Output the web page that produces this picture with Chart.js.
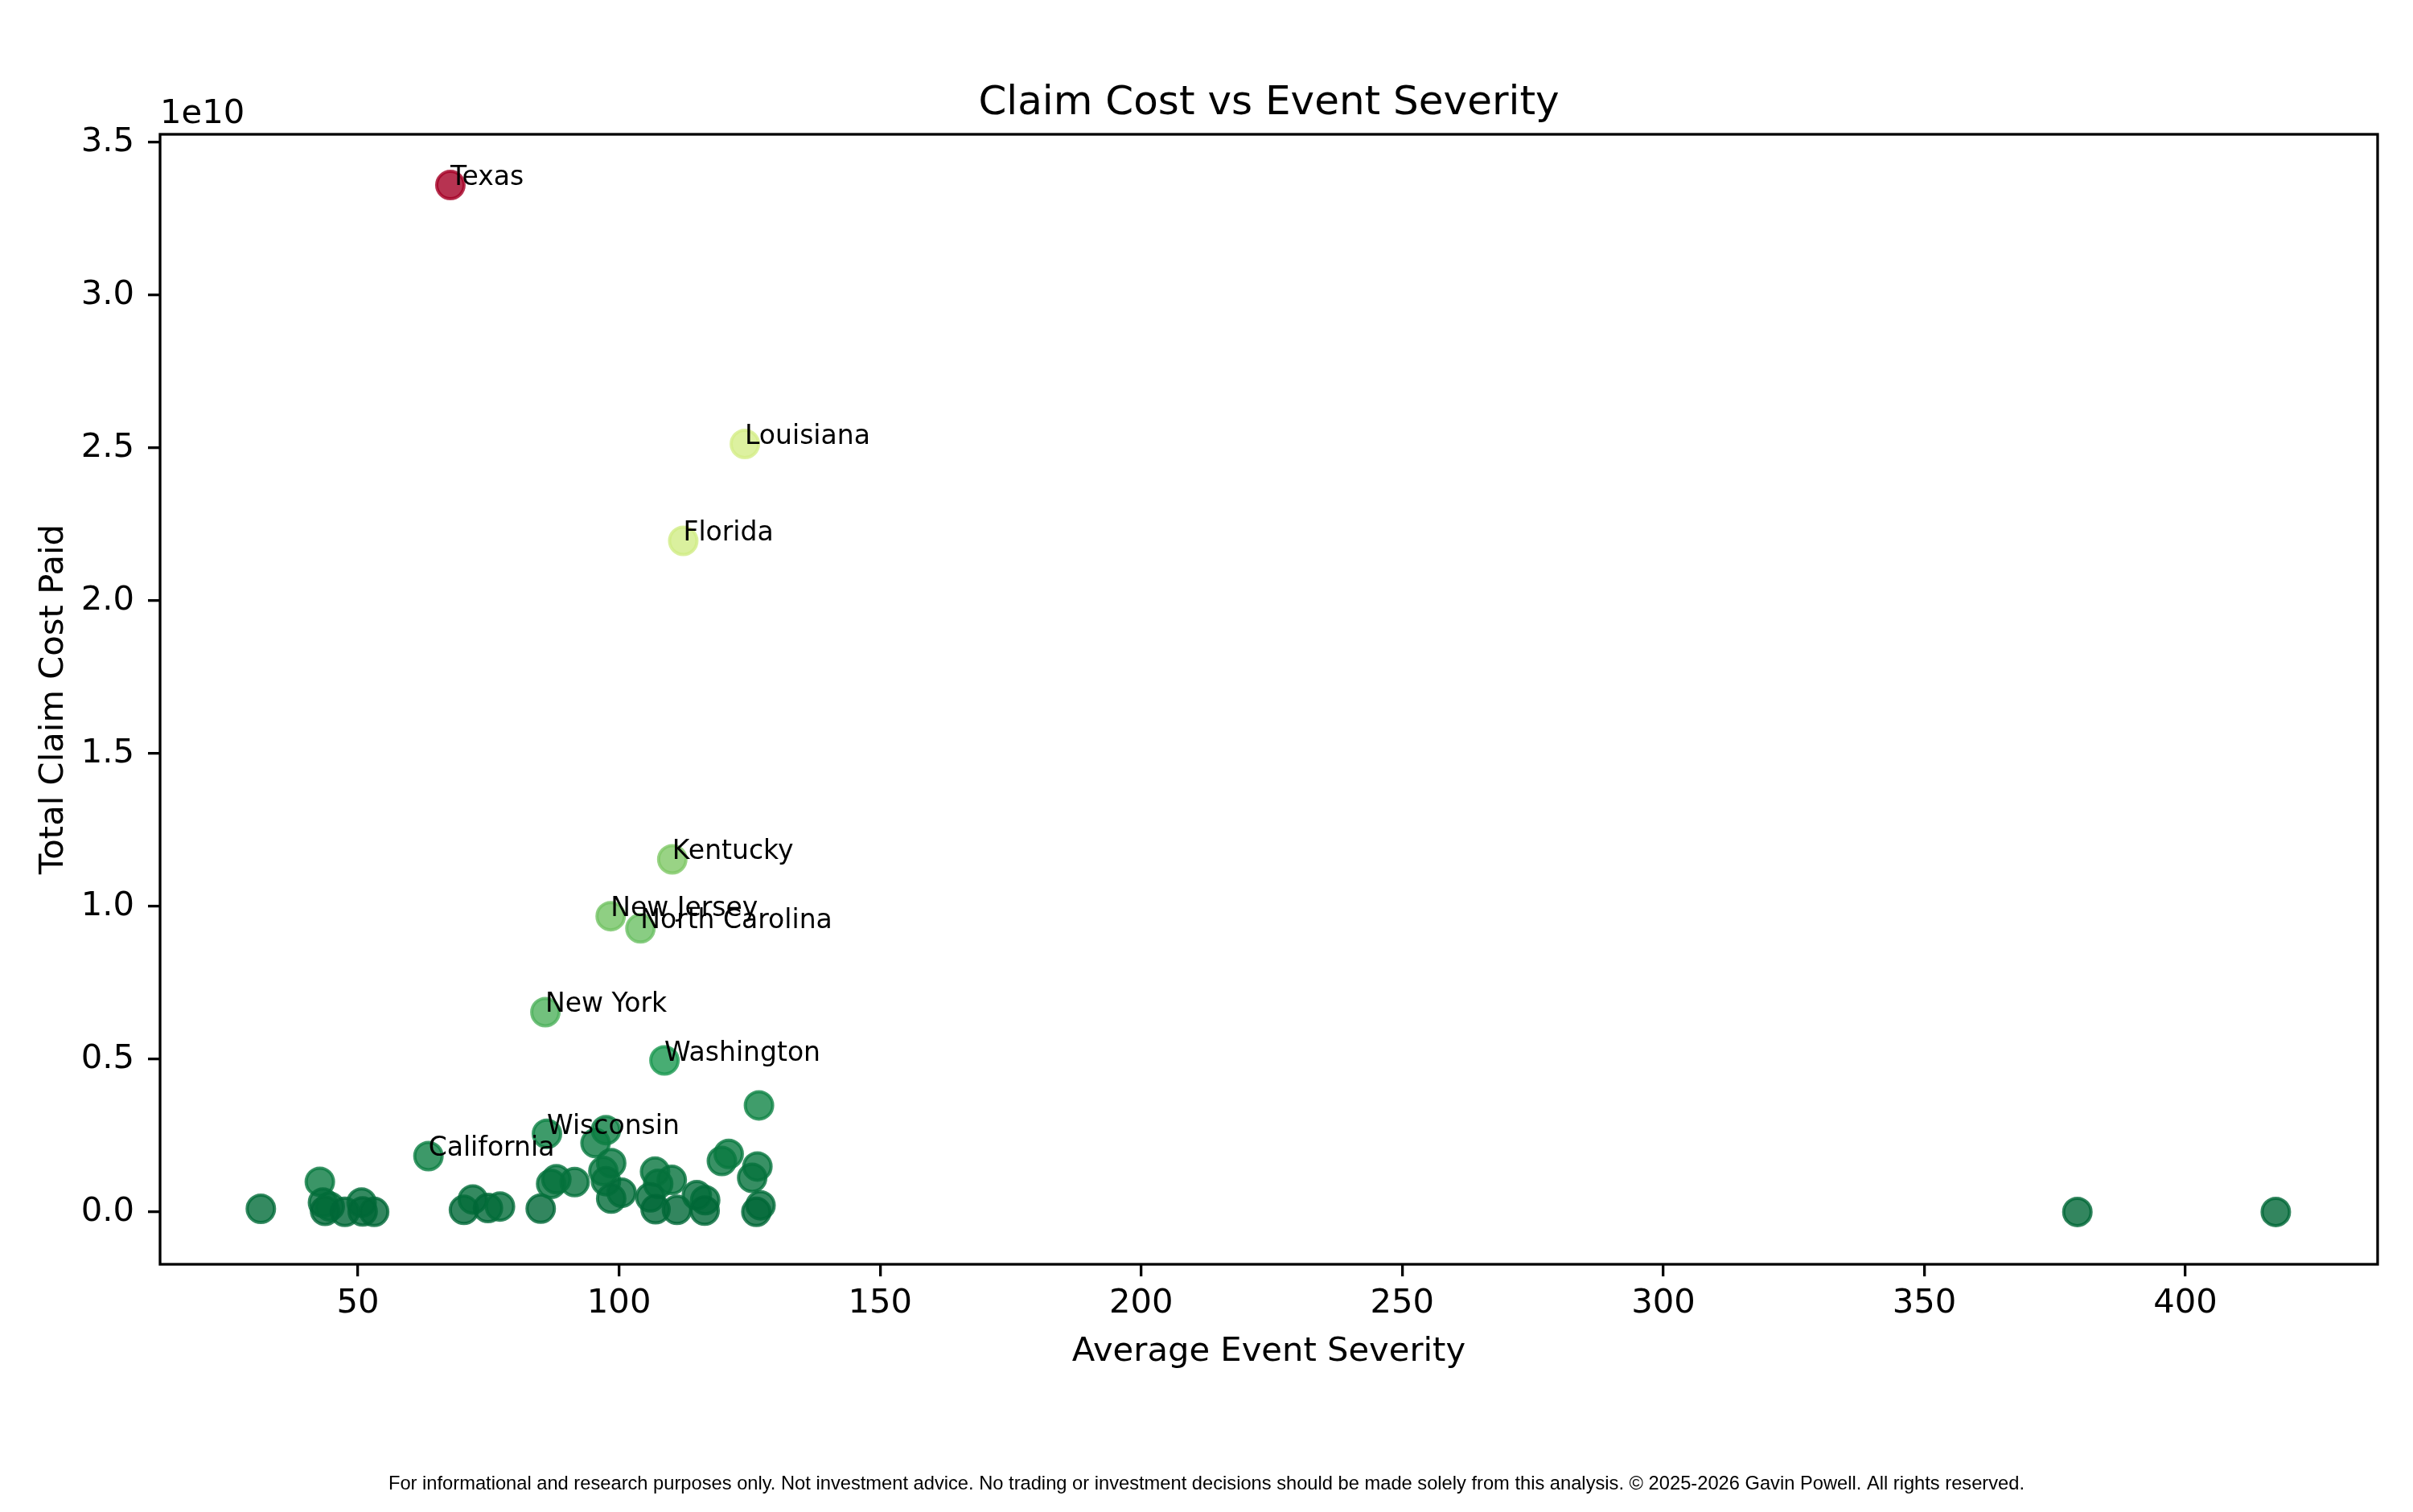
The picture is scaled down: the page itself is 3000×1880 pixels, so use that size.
<!DOCTYPE html>
<html>
<head>
<meta charset="utf-8">
<title>Claim Cost vs Event Severity</title>
<script src="https://cdn.jsdelivr.net/npm/chart.js@4.4.1/dist/chart.umd.min.js"></script>
<style>
  html, body { margin: 0; padding: 0; background: #fff; }
  #wrap { width: 3000px; height: 1880px; }
</style>
</head>
<body>
<div id="wrap"><canvas id="chart" width="3000" height="1880"></canvas></div>
<script>
// values ('' = point without a label)
const stateNames = [
  'Texas', 'Louisiana', 'Florida', 'Kentucky', 'New Jersey', 'North Carolina',
  'New York', 'Washington', 'Wisconsin', 'California',
  '', '', '', '', '', '', '', '', '', '', '', '', '', '', '', '', '', '', '', '', '',
  '', '', '', '', '', '', '', '', '', '', '', '', '', '', '', '', '', '', '', '', ''
];
const avgSeverity = [
  67.7, 124.1, 112.3, 110.2, 98.4, 104.1, 85.9, 108.7, 86.2, 63.5,
  126.8, 31.4, 42.7, 43.3, 43.7, 44.6, 47.5, 50.7, 50.9, 53.1,
  70.3, 72.0, 74.9, 77.2, 85.0, 87.0, 88.0, 91.5, 95.5, 97.5,
  98.5, 97.0, 97.5, 98.5, 100.5, 106.9, 110.1, 107.5, 106.0, 107.0,
  111.1, 114.9, 116.5, 116.4, 119.7, 121.0, 126.5, 125.5, 127.1, 126.3,
  379.3, 417.3
];
const claimCost = [
  3.36e10, 2.513e10, 2.196e10, 1.154e10, 9.68e9, 9.28e9, 6.54e9, 4.96e9, 2.56e9, 1.83e9,
  3.49e9, 1.05e8, 9.9e8, 3.1e8, 4e7, 1.8e8, 5e6, 3.1e8, 2e7, 5e6,
  7e7, 4.1e8, 1.3e8, 1.8e8, 1.1e8, 9.2e8, 1.07e9, 9.8e8, 2.255e9, 2.68e9,
  1.6e9, 1.34e9, 1.01e9, 4.4e8, 6.3e8, 1.32e9, 1.05e9, 9.2e8, 4.8e8, 9e7,
  7e7, 5.5e8, 3.9e8, 4.5e7, 1.67e9, 1.9e9, 1.49e9, 1.12e9, 2.2e8, 5e6,
  3e6, 2e6
];
// position of each point on the reversed red-yellow-green colour scale
const colorLevel = [
  1.0, 0.39, 0.385, 0.24, 0.22, 0.21, 0.17, 0.10, 0.055, 0.05,
  0.06, 0.01, 0.04, 0.01, 0.0, 0.01, 0.0, 0.01, 0.0, 0.0,
  0.0, 0.01, 0.0, 0.01, 0.0, 0.02, 0.02, 0.02, 0.04, 0.045,
  0.03, 0.03, 0.02, 0.01, 0.01, 0.03, 0.02, 0.02, 0.01, 0.0,
  0.0, 0.01, 0.01, 0.0, 0.03, 0.035, 0.03, 0.02, 0.01, 0.0,
  0.0, 0.0
];
const xTicks = [50, 100, 150, 200, 250, 300, 350, 400];
const yTicks = [0, 0.5e10, 1.0e10, 1.5e10, 2.0e10, 2.5e10, 3.0e10, 3.5e10];

const FONT = 'DejaVu Sans';

// RdYlGn colour stops, read in reverse
const rdylgn = [
  [165, 0, 38], [215, 48, 39], [244, 109, 67], [253, 174, 97], [254, 224, 139],
  [255, 255, 191], [217, 239, 139], [166, 217, 106], [102, 189, 99], [26, 152, 80], [0, 104, 55]
];
function rdylgnR(t, alpha) {
  const u = (1 - t) * 10;
  const i = Math.min(9, Math.floor(u));
  const f = u - i;
  const a = rdylgn[i], b = rdylgn[i + 1];
  const c = a.map((v, k) => Math.round(v + (b[k] - v) * f));
  return `rgba(${c[0]}, ${c[1]}, ${c[2]}, ${alpha})`;
}

const pointColors = colorLevel.map(t => rdylgnR(t, 0.8));

// frame, titles, point labels and footer
const textPlugin = {
  id: 'textPlugin',
  afterDatasetsDraw(chart) {
    const { ctx, chartArea: a, scales } = chart;
    ctx.save();
    ctx.strokeStyle = '#000';
    ctx.lineWidth = 3.3;
    ctx.strokeRect(a.left, a.top, a.right - a.left, a.bottom - a.top);

    ctx.fillStyle = '#000';
    ctx.textAlign = 'left';
    ctx.textBaseline = 'alphabetic';
    ctx.font = `33px "${FONT}"`;
    stateNames.forEach((name, i) => {
      if (!name) return;
      const px = scales.x.getPixelForValue(avgSeverity[i]);
      const py = scales.y.getPixelForValue(claimCost[i]);
      ctx.fillText(name, px, py);
    });

    const cx = (a.left + a.right) / 2;
    ctx.textAlign = 'center';
    ctx.font = `50px "${FONT}"`;
    ctx.fillText('Claim Cost vs Event Severity', cx, 142);

    ctx.font = `41.7px "${FONT}"`;
    ctx.fillText('Average Event Severity', cx, 1692);

    ctx.textAlign = 'left';
    ctx.fillText('1e10', a.left, 153);

    ctx.save();
    ctx.translate(78, (a.top + a.bottom) / 2);
    ctx.rotate(-Math.PI / 2);
    ctx.textAlign = 'center';
    ctx.fillText('Total Claim Cost Paid', 0, 0);
    ctx.restore();

    ctx.textAlign = 'center';
    ctx.font = '23.7px "Liberation Sans"';
    ctx.fillText('For informational and research purposes only. Not investment advice. No trading or investment decisions should be made solely from this analysis. \u00a9 2025-2026 Gavin Powell. All rights reserved.', 1500, 1852);
    ctx.restore();
  }
};

const ctx = document.getElementById('chart').getContext('2d');
const chart = new Chart(ctx, {
  type: 'scatter',
  data: {
    datasets: [{
      data: avgSeverity.map((x, i) => ({ x: x, y: claimCost[i] })),
      backgroundColor: pointColors,
      borderColor: pointColors,
      borderWidth: 4,
      pointRadius: 17,
      pointHoverRadius: 17,
    }],
  },
  options: {
    responsive: false,
    animation: false,
    devicePixelRatio: 1,
    events: [],
    layout: { padding: { top: 167, right: 44, left: 0, bottom: 0 } },
    plugins: {
      legend: { display: false },
      title: { display: false },
      tooltip: { enabled: false },
    },
    scales: {
      x: {
        type: 'linear',
        min: 12.1,
        max: 436.8,
        afterFit: s => { s.height = 308; },
        afterBuildTicks: s => { s.ticks = xTicks.map(v => ({ value: v })); },
        border: { display: false },
        grid: { display: true, drawOnChartArea: false, drawTicks: true, tickLength: 15, lineWidth: 3.3, color: '#000', tickColor: '#000' },
        ticks: { color: '#000', font: { family: FONT, size: 41.7 }, padding: 9, maxRotation: 0, autoSkip: false, callback: v => String(v) },
      },
      y: {
        type: 'linear',
        min: -0.171e10,
        max: 3.526e10,
        afterFit: s => { s.width = 199; },
        afterBuildTicks: s => { s.ticks = yTicks.map(v => ({ value: v })); },
        border: { display: false },
        grid: { display: true, drawOnChartArea: false, drawTicks: true, tickLength: 15, lineWidth: 3.3, color: '#000', tickColor: '#000' },
        ticks: { color: '#000', font: { family: FONT, size: 41.7 }, padding: 17, autoSkip: false, callback: v => (v / 1e10).toFixed(1) },
      },
    },
  },
  plugins: [textPlugin],
});
</script>
</body>
</html>
